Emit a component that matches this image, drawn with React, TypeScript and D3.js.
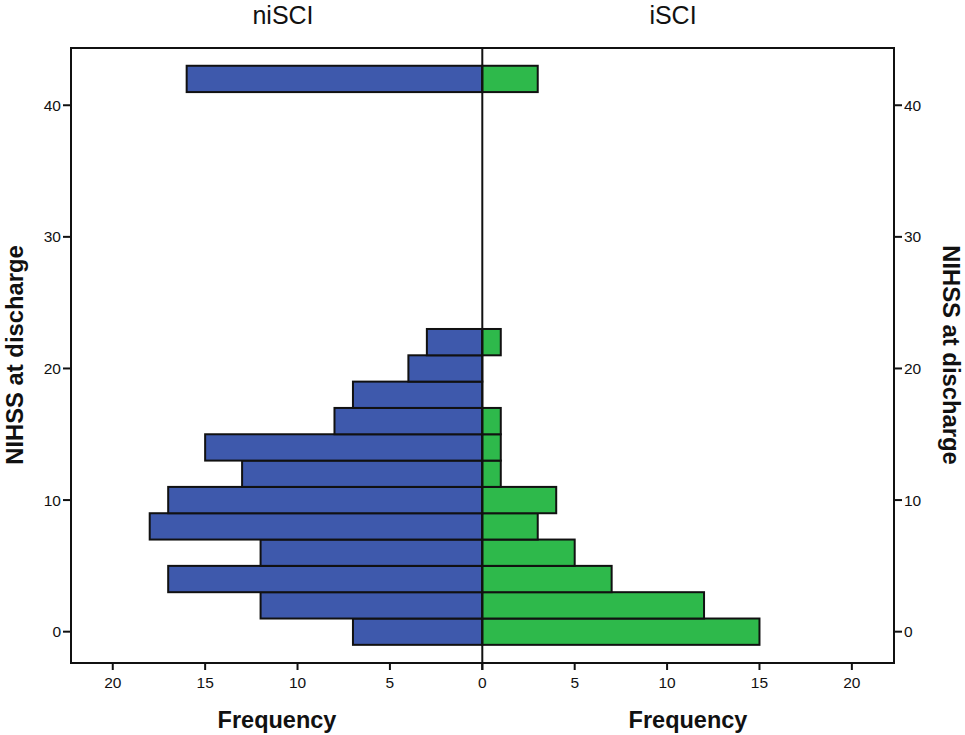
import React from "react";
import * as d3 from "d3";

const binCenters = [0, 2, 4, 6, 8, 10, 12, 14, 16, 18, 20, 22, 42];
const niSCI = [7, 12, 17, 12, 18, 17, 13, 15, 8, 7, 4, 3, 16];
const iSCI = [15, 12, 7, 5, 3, 4, 1, 1, 1, 0, 0, 1, 3];
const xTicks = [0, 5, 10, 15, 20];
const yTicks = [0, 10, 20, 30, 40];
const groupLabels = ["niSCI", "iSCI"];

const W = 965, H = 735;
const left = 71, right = 894, top = 48, bottom = 663;
const center = 482.3;
const binWidth = 2;

export default function App() {
  const xL = d3.scaleLinear().domain([0, 22.26]).range([center, left]);
  const xR = d3.scaleLinear().domain([0, 22.28]).range([center, right]);
  const y = d3.scaleLinear().domain([-2.38, 44.35]).range([bottom, top]);
  const blue = "#3E59AC";
  const green = "#2EB94B";
  const font = "Arial, 'Liberation Sans', sans-serif";
  return (
    <svg width={W} height={H} style={{ position: "absolute", left: 0, top: 0 }}>
      <rect x={0} y={0} width={W} height={H} fill="#fff" />
      {/* bars */}
      {binCenters.map((c, i) => (
        <g key={"b" + i}>
          {niSCI[i] > 0 && (
            <rect x={xL(niSCI[i])} y={y(c + binWidth / 2)} width={xL(0) - xL(niSCI[i])}
              height={y(c - binWidth / 2) - y(c + binWidth / 2)} fill={blue} stroke="#111" strokeWidth={2} />
          )}
          {iSCI[i] > 0 && (
            <rect x={xR(0)} y={y(c + binWidth / 2)} width={xR(iSCI[i]) - xR(0)}
              height={y(c - binWidth / 2) - y(c + binWidth / 2)} fill={green} stroke="#111" strokeWidth={2} />
          )}
        </g>
      ))}
      {/* frame */}
      <rect x={left} y={top} width={right - left} height={bottom - top} fill="none" stroke="#111" strokeWidth={2} />
      <line x1={center} x2={center} y1={top} y2={bottom + 7} stroke="#111" strokeWidth={2} />
      {/* x ticks */}
      {xTicks.map((t) => (
        <g key={"xl" + t}>
          <line x1={xL(t)} x2={xL(t)} y1={bottom} y2={bottom + 7} stroke="#111" strokeWidth={2} />
          <text x={xL(t)} y={688} textAnchor="middle" fontFamily={font} fontSize={15.5} fill="#111">{t}</text>
        </g>
      ))}
      {xTicks.filter((t) => t > 0).map((t) => (
        <g key={"xr" + t}>
          <line x1={xR(t)} x2={xR(t)} y1={bottom} y2={bottom + 7} stroke="#111" strokeWidth={2} />
          <text x={xR(t)} y={688} textAnchor="middle" fontFamily={font} fontSize={15.5} fill="#111">{t}</text>
        </g>
      ))}
      {/* y ticks */}
      {yTicks.map((t) => (
        <g key={"y" + t}>
          <line x1={left - 8} x2={left} y1={y(t)} y2={y(t)} stroke="#111" strokeWidth={2} />
          <text x={left - 10} y={y(t) + 5.5} textAnchor="end" fontFamily={font} fontSize={15.5} fill="#111">{t}</text>
          <line x1={right} x2={right + 8} y1={y(t)} y2={y(t)} stroke="#111" strokeWidth={2} />
          <text x={right + 10} y={y(t) + 5.5} textAnchor="start" fontFamily={font} fontSize={15.5} fill="#111">{t}</text>
        </g>
      ))}
      {/* titles */}
      <text x={283} y={24} textAnchor="middle" fontFamily={font} fontSize={25} fill="#111">{groupLabels[0]}</text>
      <text x={673} y={24} textAnchor="middle" fontFamily={font} fontSize={25} fill="#111">{groupLabels[1]}</text>
      <text x={277} y={728} textAnchor="middle" fontFamily={font} fontWeight="bold" fontSize={23.5} fill="#111">Frequency</text>
      <text x={688} y={728} textAnchor="middle" fontFamily={font} fontWeight="bold" fontSize={23.5} fill="#111">Frequency</text>
      <text transform={`translate(23,355) rotate(-90)`} textAnchor="middle" fontFamily={font} fontWeight="bold" fontSize={23.8} fill="#111">NIHSS at discharge</text>
      <text transform={`translate(943,355) rotate(90)`} textAnchor="middle" fontFamily={font} fontWeight="bold" fontSize={23.8} fill="#111">NIHSS at discharge</text>
    </svg>
  );
}
